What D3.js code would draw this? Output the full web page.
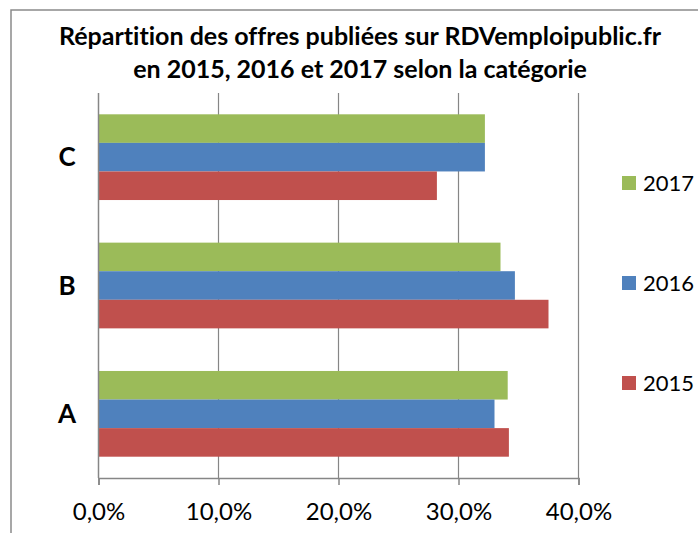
<!DOCTYPE html>
<html>
<head>
<meta charset="utf-8">
<script src="https://cdn.jsdelivr.net/npm/d3@7"></script>
<style>
    body { margin: 0; background: #fff; }
    text { font-family: Lato, "Open Sans", sans-serif; fill: #000; font-variant-ligatures: none; }
</style>
</head>
<body>
<div id="chart"></div>
<script>
// categories, from top to bottom like the picture
var categories = ["C", "B", "A"];
var years = ["2017", "2016", "2015"];

// share of offers per category (%)
var values2015 = [28.2, 37.5, 34.2];
var values2016 = [32.2, 34.7, 33.0];
var values2017 = [32.2, 33.5, 34.1];

var xTicks = [0, 10, 20, 30, 40];
var titleLines = ["Répartition des offres publiées sur RDVemploipublic.fr",
    "en 2015, 2016 et 2017 selon la catégorie"];

var colours = { "2017": "#9bbb59", "2016": "#4f81bd", "2015": "#c0504d" };

(function () {

    var width = 698;
    var height = 533;

    var series = { "2015": values2015, "2016": values2016, "2017": values2017 };

    var svg = d3.select("#chart")
        .append("svg")
        .attr("width", width)
        .attr("height", height);

    svg.append("rect")
        .attr("width", width).attr("height", height)
        .attr("fill", "#fff");

    // outer frame (cut off at right and bottom)
    svg.append("path")
        .attr("d", "M11," + (height + 2) + "V10H" + (width + 2))
        .attr("fill", "none")
        .attr("stroke", "#8a8a8a")
        .attr("stroke-width", 1.5);

    var x = d3.scaleLinear().domain([0, 40]).range([98.5, 578.5]);

    var y = d3.scaleBand()
        .domain(categories)
        .range([93, 478])
        .paddingInner(0.332)
        .paddingOuter(0.166);

    var yInner = d3.scaleBand()
        .domain(years)
        .range([0, y.bandwidth()]);

    // gridlines
    svg.append("g")
        .selectAll("line")
        .data(xTicks.slice(1))
        .enter()
        .append("line")
        .attr("x1", function (d) { return x(d); })
        .attr("x2", function (d) { return x(d); })
        .attr("y1", 93)
        .attr("y2", 478)
        .attr("stroke", "#868686")
        .attr("stroke-width", 1.2);

    // bars
    var groups = svg.append("g")
        .selectAll("g")
        .data(categories)
        .enter()
        .append("g")
        .attr("transform", function (d) { return "translate(0," + y(d) + ")"; });

    groups.selectAll("rect")
        .data(function (d, i) {
            return years.map(function (yr) { return { year: yr, value: series[yr][i] }; });
        })
        .enter()
        .append("rect")
        .attr("x", x(0))
        .attr("y", function (d) { return yInner(d.year); })
        .attr("width", function (d) { return x(d.value) - x(0); })
        .attr("height", yInner.bandwidth())
        .attr("fill", function (d) { return colours[d.year]; });

    // value axis
    var xAxis = svg.append("g")
        .attr("transform", "translate(0,478)")
        .call(d3.axisBottom(x)
            .tickValues(xTicks)
            .tickSize(7)
            .tickPadding(18)
            .tickFormat(function (d) { return d3.format(".1f")(d).replace(".", ",") + "%"; }));

    xAxis.select(".domain").attr("stroke", "#868686").attr("stroke-width", 1.5);
    xAxis.selectAll(".tick line").attr("stroke", "#868686").attr("stroke-width", 1.5);
    xAxis.selectAll(".tick text")
        .style("font-size", "24px")
        .attr("fill", "#000")
        .attr("dy", "0.71em");

    // category axis
    svg.append("line")
        .attr("x1", x(0)).attr("x2", x(0))
        .attr("y1", 93).attr("y2", 478)
        .attr("stroke", "#868686")
        .attr("stroke-width", 1.5);

    svg.append("g")
        .selectAll("text")
        .data(categories)
        .enter()
        .append("text")
        .attr("x", 67)
        .attr("y", function (d) { return y(d) + y.bandwidth() / 2; })
        .attr("dy", "0.35em")
        .attr("text-anchor", "middle")
        .style("font-size", "26px")
        .style("font-weight", "bold")
        .text(function (d) { return d; });

    // title
    svg.append("g")
        .selectAll("text")
        .data(titleLines)
        .enter()
        .append("text")
        .attr("x", 360)
        .attr("y", function (d, i) { return 45 + i * 33; })
        .attr("text-anchor", "middle")
        .style("font-size", "25px")
        .style("font-weight", "bold")
        .text(function (d) { return d; });

    // legend
    var legend = svg.append("g")
        .selectAll("g")
        .data(years)
        .enter()
        .append("g")
        .attr("transform", function (d, i) { return "translate(622," + (183 + i * 100) + ")"; });

    legend.append("rect")
        .attr("y", -7)
        .attr("width", 14)
        .attr("height", 14)
        .attr("fill", function (d) { return colours[d]; });

    legend.append("text")
        .attr("x", 21)
        .attr("dy", "0.35em")
        .style("font-size", "22px")
        .text(function (d) { return d; });

})();
</script>
</body>
</html>
